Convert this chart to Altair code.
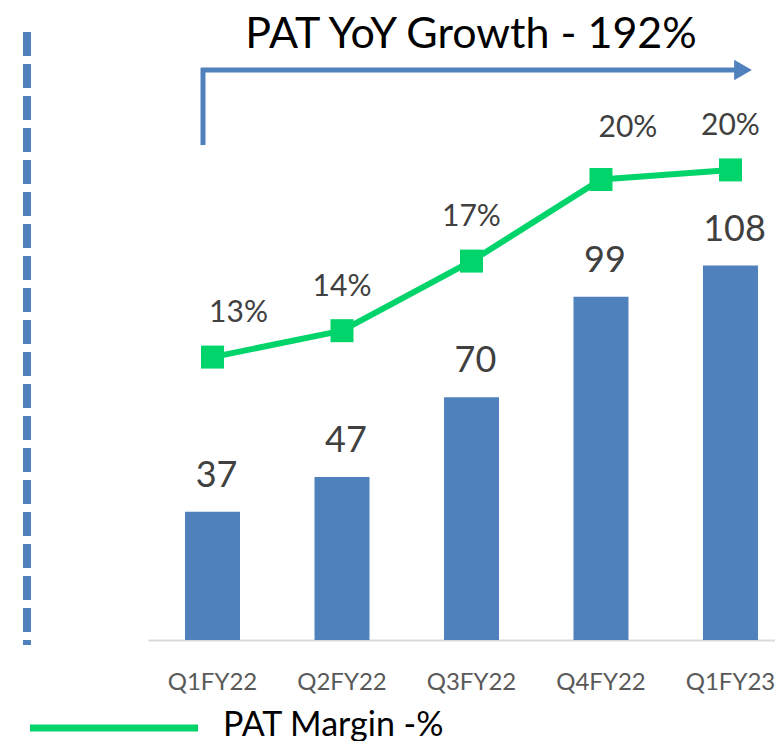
import altair as alt
import pandas as pd

# ---- data ----
quarters = ["Q1FY22", "Q2FY22", "Q3FY22", "Q4FY22", "Q1FY23"]
pat_values = [37, 47, 70, 99, 108]
pat_margin = [0.126, 0.137, 0.166, 0.200, 0.204]
title_text = "PAT YoY Growth - 192%"
legend_text = "PAT Margin -%"

BLUE = "#4f81bd"
GREEN = "#00d46a"
FONT = "Lato"

df = pd.DataFrame({"q": quarters, "pat": pat_values, "margin": pat_margin})

xenc = alt.X(
    "q:N",
    sort=quarters,
    title=None,
    scale=alt.Scale(paddingInner=0.575, paddingOuter=0.2085, align=0.685),
    axis=alt.Axis(
        labelFontSize=24, labelColor="#595959", labelFont=FONT, labelAngle=0,
        domainColor="#d9d9d9", domainWidth=2, ticks=False, grid=False,
        labelBaseline="middle", labelPadding=42,
    ),
)
xq = alt.X("q:N", sort=quarters)

base = alt.Chart(df)

ybar = alt.Y("pat:Q", scale=alt.Scale(domain=[0, 150]), axis=None)
bars = base.mark_bar(color=BLUE, size=55).encode(x=xenc, y=ybar)
bar_labels = base.mark_text(
    fontSize=36, font=FONT, color="#404040", baseline="middle", dy=-36, dx=4
).encode(x=xq, y=ybar, text=alt.Text("pat:Q"))
bar_layer = alt.layer(bars, bar_labels)

yline = alt.Y("margin:Q", scale=alt.Scale(domain=[0.0081, 0.2248]), axis=None)
line = base.mark_line(color=GREEN, strokeWidth=6).encode(x=xq, y=yline)
points = base.mark_point(
    shape="square", filled=True, size=529, color=GREEN, opacity=1
).encode(x=xq, y=yline)

txt = dict(fontSize=30, font=FONT, color="#404040", baseline="middle")
lab_enc = dict(x=xq, y=yline, text=alt.Text("margin:Q", format=".0%"))
labels_center = base.mark_text(dy=-44, **txt).encode(**lab_enc).transform_filter(
    alt.FieldOneOfPredicate(field="q", oneOf=["Q2FY22", "Q3FY22", "Q1FY23"])
)
labels_q1 = base.mark_text(dx=26, dy=-44, **txt).encode(**lab_enc).transform_filter(
    alt.datum.q == "Q1FY22"
)
labels_q4 = base.mark_text(dx=27, dy=-52, **txt).encode(**lab_enc).transform_filter(
    alt.datum.q == "Q4FY22"
)
line_layer = alt.layer(line, points, labels_center, labels_q1, labels_q4)

one = alt.Chart(pd.DataFrame({"a": [0]}))

# decorations (page coords minus view origin at (148,120))
dashed = one.mark_rule(color=BLUE, strokeWidth=8, strokeDash=[24, 8]).encode(
    x=alt.value(-121), y=alt.value(-88), y2=alt.value(525)
)
arrow_h = one.mark_rule(color=BLUE, strokeWidth=5).encode(
    x=alt.value(53), x2=alt.value(592), y=alt.value(-50)
)
arrow_v = one.mark_rule(color=BLUE, strokeWidth=5).encode(
    x=alt.value(55), y=alt.value(-52), y2=alt.value(25)
)
arrow_head = one.mark_point(
    shape="triangle-right", filled=True, color=BLUE, size=420, opacity=1
).encode(x=alt.value(595), y=alt.value(-50))
title = one.mark_text(
    text=title_text, fontSize=43, font=FONT, color="#000000",
    align="center", baseline="middle",
).encode(x=alt.value(323), y=alt.value(-85))
legend_line = one.mark_rule(color=GREEN, strokeWidth=7).encode(
    x=alt.value(-118), x2=alt.value(50), y=alt.value(608)
)
legend_label = one.mark_text(
    text=legend_text, fontSize=34, font=FONT, color="#000000",
    align="left", baseline="middle",
).encode(x=alt.value(75), y=alt.value(606))

chart = (
    alt.layer(
        bar_layer, line_layer, dashed, arrow_h, arrow_v, arrow_head, title,
        legend_line, legend_label,
    )
    .resolve_scale(y="independent")
    .properties(
        width=627,
        height=520,
        padding={"left": 140, "top": 112, "right": 0, "bottom": 101},
        autosize=alt.AutoSizeParams(type="none"),
    )
    .configure_view(stroke=None)
)

chart.save("out.html", embed_options={"renderer": "svg", "actions": False})
